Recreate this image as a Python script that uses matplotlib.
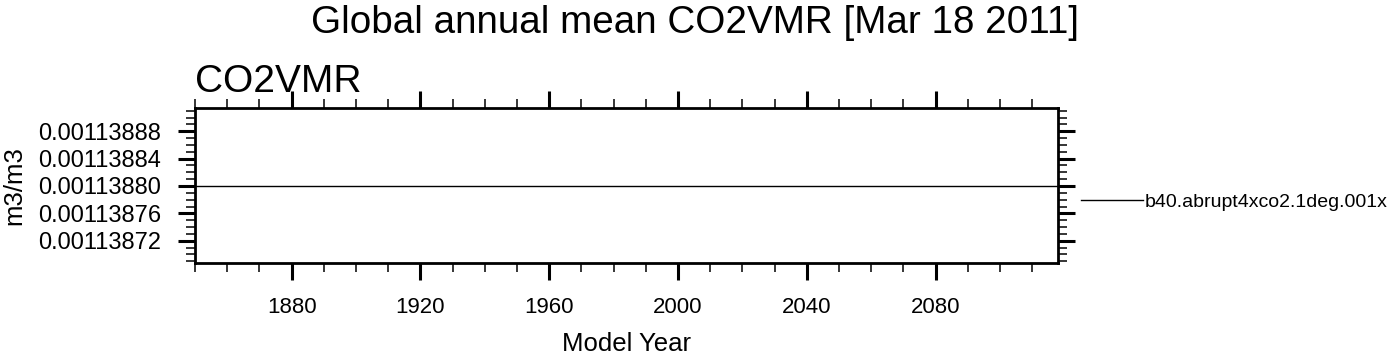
#! /usr/bin/env python

# Necessary Libraries
import numpy as np
import matplotlib
matplotlib.use("Agg")
import matplotlib.pyplot as plt
from matplotlib.ticker import MultipleLocator, FormatStrFormatter

plt.rcParams['font.family'] = ['Liberation Sans', 'DejaVu Sans']

# Data
years = np.arange(1850, 2119)
co2vmr = np.full(len(years), 0.0011388)
case_name = "b40.abrupt4xco2.1deg.001x"
xmajor = [1880, 1920, 1960, 2000, 2040, 2080]
ymajor = [0.00113872, 0.00113876, 0.00113880, 0.00113884, 0.00113888]

fig = plt.figure(figsize=(13.9, 3.54), dpi=100)
ax = fig.add_axes([0.1403, 0.2562, 0.6209, 0.4387])

ax.plot(years, co2vmr, color='k', linewidth=1.0, label=case_name)

ax.set_xlim(1850, 2118)
ax.set_ylim(0.0011388 - 1.13e-7, 0.0011388 + 1.14e-7)

ax.set_xticks(xmajor)
ax.xaxis.set_minor_locator(MultipleLocator(10))
ax.set_yticks(ymajor)
ax.yaxis.set_minor_locator(MultipleLocator(1e-8))
ax.yaxis.set_major_formatter(FormatStrFormatter('%.8f'))

ax.tick_params(which='both', direction='out', top=True, right=True,
               labeltop=False, labelright=False)
ax.tick_params(which='major', length=12.5, width=2.2, pad=12)
ax.tick_params(axis='x', which='major', labelsize=16)
ax.tick_params(axis='y', which='major', labelsize=17)
ax.tick_params(which='minor', length=6.3, width=1.1)
for s in ax.spines.values():
    s.set_linewidth(2.0)

ax.set_xlabel('Model Year', fontsize=18.5, labelpad=9.5)
ax.set_ylabel('m3/m3', fontsize=18.5, labelpad=8)

fig.text(0.5, 1 - 33 / 354, 'Global annual mean CO2VMR [Mar 18 2011]',
         ha='center', va='baseline', fontsize=27.8)
fig.text(195 / 1390, 1 - 91.5 / 354, 'CO2VMR', ha='left', va='baseline',
         fontsize=28)

ax.legend(loc='center left', bbox_to_anchor=(1081 / 1390, 1 - 201.7 / 354),
          bbox_transform=fig.transFigure, frameon=False, fontsize=14,
          handlelength=3.2, handletextpad=0.05, borderpad=0, borderaxespad=0)

plt.savefig("out.png", dpi=100)
